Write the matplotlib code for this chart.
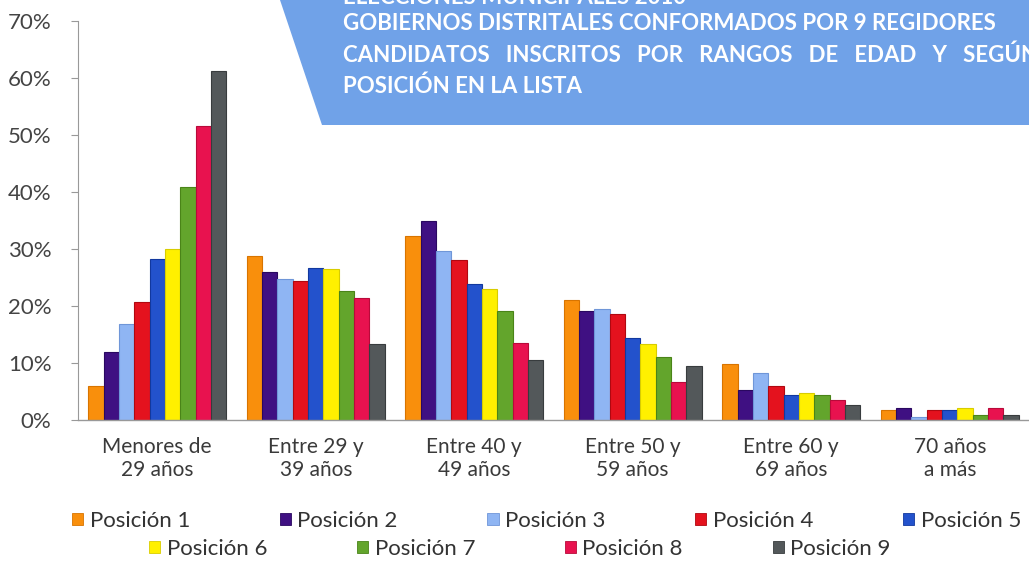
import numpy as np
import matplotlib
matplotlib.use('Agg')
from matplotlib import pyplot as plt
from matplotlib.patches import Patch, Polygon

plt.rcParams['font.family'] = ['Lato', 'DejaVu Sans']

grupos = ['Menores de\n29 años', 'Entre 29 y\n39 años', 'Entre 40 y\n49 años',
          'Entre 50 y\n59 años', 'Entre 60 y\n69 años', '70 años\na más']

pos1 = [5.9, 28.7, 32.2, 21.1, 9.8, 1.8]
pos2 = [11.9, 26.0, 34.9, 19.1, 5.3, 2.1]
pos3 = [16.8, 24.7, 29.6, 19.5, 8.2, 0.6]
pos4 = [20.7, 24.4, 28.1, 18.6, 5.9, 1.8]
pos5 = [28.2, 26.7, 23.9, 14.4, 4.3, 1.8]
pos6 = [30.0, 26.5, 22.9, 13.4, 4.7, 2.1]
pos7 = [40.8, 22.6, 19.2, 11.0, 4.3, 0.8]
pos8 = [51.5, 21.4, 13.5, 6.7, 3.5, 2.1]
pos9 = [61.2, 13.4, 10.6, 9.4, 2.6, 0.8]

series = [pos1, pos2, pos3, pos4, pos5, pos6, pos7, pos8, pos9]
nombres = ['Posición %d' % (i + 1) for i in range(9)]
colores = ['#f98f0c', '#3f1082', '#8fb5f3', '#e4121e', '#2352cc',
           '#fff000', '#63a52c', '#e8124f', '#53585a']
bordes = ['#d87400', '#2a0860', '#6f96d8', '#b00810', '#12389e',
          '#d8cc00', '#4a8418', '#b80a3a', '#383c3e']

W, H = 1029, 561
fig = plt.figure(figsize=(W / 100, H / 100), dpi=100)
ax = fig.add_axes([78 / W, 1 - 420 / H, 1 - 78 / W, (420 - 21) / H])

x = np.arange(len(grupos))
ancho = 0.0966
for i, (vals, c, b) in enumerate(zip(series, colores, bordes)):
    ax.bar(x + (i - 4) * ancho, vals, width=ancho, color=c, edgecolor=b,
           linewidth=0.8, label=nombres[i])

ax.set_xlim(-0.5, len(grupos) - 0.5)
ax.set_ylim(0, 70)
ax.set_yticks(np.arange(0, 71, 10))
ax.set_yticklabels(['%d%%' % v for v in range(0, 71, 10)], fontsize=16, color='#444444')
ax.set_xticks(x)
ax.set_xticklabels(grupos, fontsize=15, color='#3a3a3a', linespacing=1.2)
ax.tick_params(axis='x', length=0, pad=12)
ax.tick_params(axis='y', length=5, width=0.8, color='#999999', pad=14)
for s in ['top', 'right']:
    ax.spines[s].set_visible(False)
ax.spines['left'].set_color('#999999')
ax.spines['bottom'].set_color('#999999')
ax.spines['left'].set_linewidth(0.8)
ax.spines['bottom'].set_linewidth(1.0)

# leyenda en dos filas
h = [Patch(facecolor=c, edgecolor=b, linewidth=0.6) for c, b in zip(colores, bordes)]
kw = dict(frameon=False, fontsize=16, handlelength=0.5, handleheight=0.5,
          handletextpad=0.3, borderpad=0, borderaxespad=0, labelcolor='#333333',
          columnspacing=4.03)
fig.legend(h[:5], nombres[:5], ncol=5, loc='center left',
           bbox_to_anchor=(72 / W, 1 - 521 / H), **kw)
fig.legend(h[5:], nombres[5:], ncol=4, loc='center left',
           bbox_to_anchor=(149 / W, 1 - 549 / H), **kw)

# cuadro del titulo
caja = Polygon([(280 / W, 1.0), (1.0, 1.0), (1.0, 1 - 125 / H), (322 / W, 1 - 125 / H)],
               closed=True, transform=fig.transFigure, facecolor='#70a2e8',
               edgecolor='none', zorder=5)
fig.patches.append(caja)
tkw = dict(color='white', fontweight='bold', fontsize=16, va='center', zorder=6)
fig.text(343 / W, 1 + 3 / H, 'ELECCIONES MUNICIPALES 2010', **tkw)
fig.text(343 / W, 1 - 23 / H, 'GOBIERNOS DISTRITALES CONFORMADOS POR 9 REGIDORES', **tkw)
fig.text(343 / W, 1 - 55 / H, 'CANDIDATOS   INSCRITOS   POR   RANGOS   DE   EDAD   Y   SEGÚN', **tkw)
fig.text(343 / W, 1 - 86 / H, 'POSICIÓN EN LA LISTA', **tkw)

fig.savefig('out.png', dpi=100)
